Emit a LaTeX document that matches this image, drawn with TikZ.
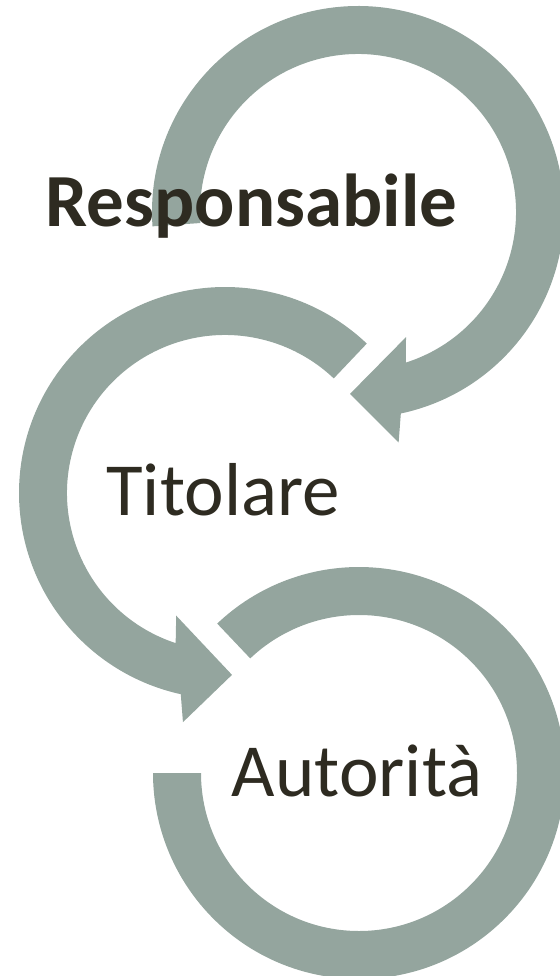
\documentclass[tikz,border=0pt]{standalone}
\usepackage{fontspec}
\setmainfont{Carlito}
\definecolor{ringgray}{RGB}{148,165,158}
\definecolor{textdark}{RGB}{46,43,33}

\begin{document}
\begin{tikzpicture}[x=1pt,y=1pt,ring/.style={fill=ringgray,draw=none},steptext/.style={text=textdark,font=\fontsize{75}{90}\selectfont,anchor=base,inner sep=0pt}] %
    \useasboundingbox (0,0) rectangle (559,-976);
    \coordinate (c1) at (358,-212) ; %
    \coordinate (c2) at (225,-493) ; %
    \coordinate (c3) at (359,-773) ; %
    % arrows
    \fill[ring,shift={(c1)}] (184:206) arc[start angle=184,end angle=-78,radius=206] -- (-80:234) -- (-92.5:182) -- (-69:134) -- (-72.4:158) arc[start angle=-72.4,end angle=184,radius=158] -- cycle;
    \fill[ring,shift={(c2)}] (46.5:206) arc[start angle=46.5,end angle=257.6,radius=206] -- (259.6:233) -- (272.2:182) -- (248.3:132) -- (251.8:158) arc[start angle=251.8,end angle=46.5,radius=158] -- cycle;
    \fill[ring,shift={(c3)}] (133.5:206) arc[start angle=133.5,end angle=-180,radius=206] -- (-180:158) arc[start angle=-180,end angle=133.5,radius=158] -- cycle;
    % labels
    \node[steptext,font=\fontsize{75}{90}\selectfont\bfseries] (resp) at (251.5,-227) {Responsabile};
    \node[steptext] (tit) at (223,-515) {Titolare};
    \node[steptext] (aut) at (357,-796) {Autorità};
  \end{tikzpicture}
\end{document}
